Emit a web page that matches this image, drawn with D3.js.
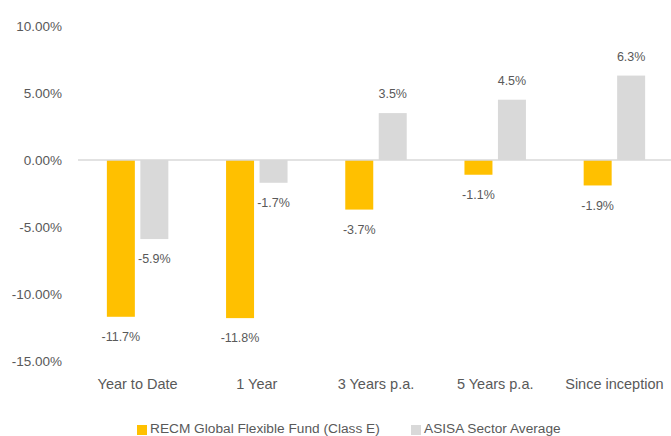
<html>
<head>
<meta charset="utf-8">
<script src="https://cdnjs.cloudflare.com/ajax/libs/d3/7.8.5/d3.min.js"></script>
<style>
  body { margin: 0; background: #fff; }
  svg text { font-family: "Liberation Sans", sans-serif; fill: #595959; }
</style>
</head>
<body>
<div id="chart"></div>
<script>
var categories = ["Year to Date", "1 Year", "3 Years p.a.", "5 Years p.a.", "Since inception"];
var seriesNames = ["RECM Global Flexible Fund (Class E)", "ASISA Sector Average"];
var fundValues = [-11.7, -11.8, -3.7, -1.1, -1.9];
var sectorValues = [-5.9, -1.7, 3.5, 4.5, 6.3];
var yTicks = [-15, -10, -5, 0, 5, 10];
var colors = ["#FFC000", "#D9D9D9"];

var width = 671, height = 436;

var svg = d3.select("#chart").append("svg")
    .attr("width", width)
    .attr("height", height);

var x0 = d3.scaleBand()
    .domain(categories)
    .range([78, 674]);

var x1 = d3.scaleBand()
    .domain(seriesNames)
    .range([0, x0.bandwidth()])
    .paddingInner(0.164)
    .paddingOuter(0.862);

var y = d3.scaleLinear()
    .domain([-15, 10])
    .range([361, 26]);

// y axis labels
var yAxis = svg.append("g")
    .attr("transform", "translate(62,0)")
    .call(d3.axisLeft(y).tickValues(yTicks).tickSize(0).tickPadding(0)
        .tickFormat(function(d) { return d.toFixed(2) + "%"; }));
yAxis.select(".domain").remove();
yAxis.selectAll("text").style("font-size", "13.5px");

var rows = categories.map(function(c, i) {
    return { cat: c, values: [fundValues[i], sectorValues[i]] };
});

var groups = svg.selectAll("g.cat")
    .data(rows)
    .enter().append("g")
    .attr("class", "cat")
    .attr("transform", function(d) { return "translate(" + x0(d.cat) + ",0)"; });

groups.selectAll("rect")
    .data(function(d) { return d.values.map(function(v, j) { return { s: seriesNames[j], v: v, j: j }; }); })
    .enter().append("rect")
    .attr("x", function(d) { return x1(d.s); })
    .attr("width", x1.bandwidth())
    .attr("y", function(d) { return y(Math.max(0, d.v)); })
    .attr("height", function(d) { return Math.abs(y(d.v) - y(0)); })
    .attr("fill", function(d) { return colors[d.j]; });

groups.selectAll("text.val")
    .data(function(d) { return d.values.map(function(v, j) { return { s: seriesNames[j], v: v }; }); })
    .enter().append("text")
    .attr("class", "val")
    .attr("x", function(d) { return x1(d.s) + x1.bandwidth() / 2; })
    .attr("y", function(d) { return d.v < 0 ? y(d.v) + 21 : y(d.v) - 18; })
    .attr("text-anchor", "middle")
    .attr("dominant-baseline", "middle")
    .style("font-size", "12.5px")
    .text(function(d) { return d.v.toFixed(1) + "%"; });

// zero line
svg.append("line")
    .attr("x1", 78).attr("x2", width)
    .attr("y1", y(0)).attr("y2", y(0))
    .attr("stroke", "#D9D9D9")
    .attr("stroke-width", 1.5);

// category labels
svg.append("g").selectAll("text")
    .data(categories)
    .enter().append("text")
    .attr("x", function(d) { return x0(d) + x0.bandwidth() / 2; })
    .attr("y", 385)
    .attr("text-anchor", "middle")
    .attr("dominant-baseline", "middle")
    .style("font-size", "14.5px")
    .text(function(d) { return d; });

// legend
var legendX = [137, 411];
var legend = svg.append("g").selectAll("g")
    .data(seriesNames)
    .enter().append("g")
    .attr("transform", function(d, i) { return "translate(" + legendX[i] + ",429)"; });
legend.append("rect")
    .attr("x", 0).attr("y", -4)
    .attr("width", 10).attr("height", 10)
    .attr("fill", function(d, i) { return colors[i]; });
legend.append("text")
    .attr("x", 13)
    .attr("y", 0)
    .attr("dominant-baseline", "middle")
    .style("font-size", "13.7px")
    .text(function(d) { return d; });
</script>
</body>
</html>
